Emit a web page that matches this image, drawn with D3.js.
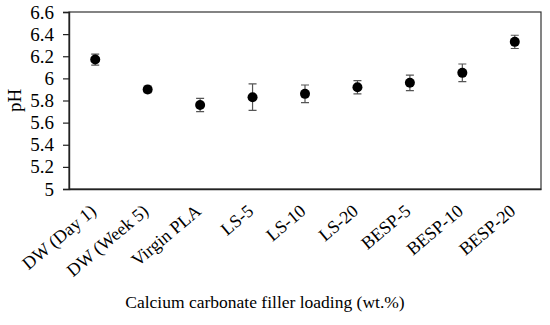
<!DOCTYPE html>
<html lang="en">
<head>
  <meta charset="utf-8">
  <script src="https://d3js.org/d3.v7.min.js"></script>
  <style>
    body { margin: 0; background: #fff; }
    text { font-family: "Liberation Serif", "Times New Roman", serif; fill: #000; }
  </style>
</head>
<body>
<div id="chart"></div>
<script>

// data
var groups = ["DW (Day 1)", "DW (Week 5)", "Virgin PLA", "LS-5", "LS-10", "LS-20", "BESP-5", "BESP-10", "BESP-20"];
var phMean = [6.17, 5.90, 5.76, 5.83, 5.86, 5.92, 5.96, 6.05, 6.33];
var phErr  = [0.05, 0.03, 0.06, 0.12, 0.08, 0.06, 0.07, 0.08, 0.06];
var yTicks = [5, 5.2, 5.4, 5.6, 5.8, 6, 6.2, 6.4, 6.6];

var margin = {top: 12, right: 9, bottom: 136, left: 69},
  width = 550 - margin.left - margin.right,
  height = 325 - margin.top - margin.bottom;

var svg = d3.select("#chart")
  .append("svg")
    .attr("width", 550)
    .attr("height", 325)
  .append("g")
    .attr("transform", "translate(" + margin.left + "," + margin.top + ")");

var data = groups.map(function(g, i) { return {group: g, value: phMean[i], err: phErr[i]}; });

var x = d3.scaleBand()
  .range([0, width])
  .domain(groups);

var y = d3.scaleLinear()
  .range([height, 0])
  .domain([5, 6.6]);

// plot frame
svg.append("rect")
  .attr("x", 0)
  .attr("y", 0)
  .attr("width", width)
  .attr("height", height)
  .style("fill", "none")
  .style("stroke", "#333")
  .style("stroke-width", 1.2);

// Y axis
var yAxis = svg.append("g")
  .style("font-size", "19px")
  .call(d3.axisLeft(y).tickValues(yTicks).tickSize(6).tickPadding(9).tickFormat(d3.format("")));
yAxis.select(".domain").style("stroke", "#222").style("stroke-width", 1.4);
yAxis.selectAll(".tick line").style("stroke", "#222").style("stroke-width", 1.2);
yAxis.selectAll("text").style("font-family", "Liberation Serif");

// X axis
var xAxis = svg.append("g")
  .attr("transform", "translate(0," + height + ")")
  .style("font-size", "18px")
  .call(d3.axisBottom(x).tickSize(0));
xAxis.select(".domain").style("stroke", "#222").style("stroke-width", 1.4);
xAxis.selectAll("text")
  .style("text-anchor", "end")
  .style("font-family", "Liberation Serif")
  .attr("x", 0)
  .attr("y", 0)
  .attr("dy", 0)
  .attr("transform", "translate(2,24) rotate(-40)");

// error bars
var capW = 4;
svg.selectAll(".errbar")
  .data(data)
  .enter()
  .append("path")
    .attr("class", "errbar")
    .attr("d", function(d) {
      var cx = x(d.group) + x.bandwidth() / 2,
        y1 = y(d.value + d.err), y2 = y(d.value - d.err);
      return "M" + (cx - capW) + "," + y1 + "H" + (cx + capW) +
        "M" + cx + "," + y1 + "V" + y2 +
        "M" + (cx - capW) + "," + y2 + "H" + (cx + capW);
    })
    .style("fill", "none")
    .style("stroke", "#555")
    .style("stroke-width", 1.2);

// points
svg.selectAll(".dot")
  .data(data)
  .enter()
  .append("circle")
    .attr("class", "dot")
    .attr("cx", function(d) { return x(d.group) + x.bandwidth() / 2; })
    .attr("cy", function(d) { return y(d.value); })
    .attr("r", 5)
    .style("fill", "#000");

// axis titles
svg.append("text")
  .attr("transform", "rotate(-90)")
  .attr("x", -height / 2)
  .attr("y", -margin.left + 21)
  .style("text-anchor", "middle")
  .style("font-size", "19px")
  .text("pH");

svg.append("text")
  .attr("x", 265 - margin.left)
  .attr("y", 308 - margin.top)
  .style("text-anchor", "middle")
  .style("font-size", "17.5px")
  .text("Calcium carbonate filler loading (wt.%)");

</script>
</body>
</html>
